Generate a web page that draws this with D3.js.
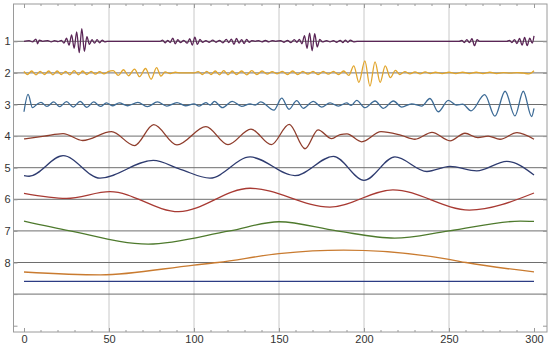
<!DOCTYPE html>
<html>
<head>
<meta charset="utf-8">
<script src="https://cdn.jsdelivr.net/npm/d3@7"></script>
<style>
  body { margin: 0; background: #fff; }
  #chart text { font-family: "Liberation Sans", Arial, sans-serif; font-size: 11px; fill: #333; }
</style>
</head>
<body>
<div id="chart"></div>
<script>
// x ticks and level labels
var xTicks = [0, 50, 100, 150, 200, 250, 300];
var xGrid = [50, 100, 150, 200, 250];
var levelLabels = ["1", "2", "3", "4", "5", "6", "7", "8", "", ""];

// detail level 1 : [t, value]
var level1 = [[0,0],[3,0.02],[5,-0.02],[7,0.07],[8,-0.08],[9,0.04],[11,0],[14,0.02],[16,-0.02],[18,0.02],[20,-0.01],
  [22,0.03],[23.5,-0.06],[25,0.1],[26.5,-0.12],[28,0.2],[29.5,-0.22],[31,0.3],[32.5,-0.36],[34,0.4],[35.5,-0.32],
  [37,0.15],[38.5,-0.1],[40,0.05],[41.5,-0.06],[43,0.05],[44.5,-0.05],[46,0.04],[47.5,-0.02],[49,0],[80,0],
  [81.5,0.04],[83,-0.05],[84.5,0.03],[86,-0.04],[87.5,0.1],[89,-0.08],[90.5,0.05],[92,-0.04],[94,0.03],[96,-0.06],
  [97.5,0.08],[99,-0.12],[100.5,0.13],[102,-0.1],[103.5,0.06],[105,-0.03],[107,0.02],[109,-0.03],[111,0.04],
  [113,-0.03],[115,0.03],[117,-0.05],[119,0.06],[120.5,-0.04],[122,0.07],[123.5,-0.1],[125,0.09],[126.5,-0.06],
  [128,0.05],[129.5,-0.07],[131,0.06],[132.5,-0.03],[134,0.02],[136,0],[138,0.02],[140,-0.02],[142,0.03],
  [144,-0.02],[146,0.02],[148,0],[151,0.02],[153,-0.03],[155,0.03],[157,-0.04],[159,0.05],[160.5,-0.03],
  [162,0.06],[163.5,-0.08],[165,0.18],[166.5,-0.22],[168,0.26],[169.5,-0.3],[171,0.24],[172.5,-0.18],[174,0.06],
  [175.5,-0.02],[178,0.02],[180,-0.02],[182,0.02],[184,-0.03],[186,0.03],[187.5,-0.04],[189,0.04],[190.5,-0.03],
  [192,0.04],[194,-0.02],[196,0],[256,0],[257.5,0.03],[259,-0.04],[260.5,0.05],[262,-0.04],[263.5,0.08],
  [265,-0.14],[266.5,0.05],[268,0],[284,0],[285.5,0.03],[287,-0.04],[288.5,0.05],[290,-0.07],[291.5,0.09],
  [293,-0.12],[294.5,0.12],[296,-0.14],[297.5,0.1],[299,-0.06],[300,0.17]];

var level2 = [[0,0.05],[2,-0.05],[4.5,0.06],[7,-0.06],[9.5,0.05],[12,-0.05],[14.5,0.06],[17,-0.06],[19.5,0.06],
  [22,-0.05],[24.5,0.05],[27,-0.06],[29.5,0.07],[32,-0.06],[34.5,0.06],[37,-0.05],[39.5,0.05],[42,-0.04],
  [44.5,0.04],[47,-0.03],[49.5,0.04],[52.5,0.07],[55.5,-0.08],[58.5,0.1],[61.5,-0.09],[65,0.12],[68,-0.12],
  [71.5,0.14],[74.8,-0.2],[78,0.17],[80.5,-0.1],[83,0.03],[86,-0.02],[89,0.02],[92,0],[100,0],[102.5,0.04],
  [105,-0.05],[107.5,0.05],[110,-0.05],[112.5,0.06],[115,-0.06],[117.5,0.07],[120,-0.06],[122.5,0.06],
  [125,-0.05],[128,0.06],[131,-0.06],[134,0.07],[137,-0.05],[140,0.06],[143,-0.04],[146,0.04],[149,-0.03],
  [152,0.05],[155,-0.05],[158,0.06],[161,-0.05],[164,0.05],[167,-0.04],[170,0.05],[173,-0.05],[176,0.05],
  [179,-0.04],[182,0.05],[185,-0.05],[188,0.06],[191,-0.08],[194,0.22],[197,-0.3],[200.5,0.38],[203.5,-0.42],
  [206.5,0.35],[209.5,-0.3],[212.5,0.22],[215.5,-0.15],[218.5,0.08],[221,-0.05],[224,0.04],[227,-0.03],
  [230,0.03],[233,-0.03],[236,0.03],[239,-0.02],[242,0.02],[246,-0.02],[250,0.02],[254,-0.02],[258,0.02],
  [262,-0.02],[266,0.02],[270,-0.02],[274,0.02],[278,-0.02],[282,0.01],[286,-0.01],[290,0.01],[294,-0.01],
  [297,-0.03],[300,0.07]];

var level3 = [[0,-0.23],[2.4,0.32],[5,-0.1],[7.5,0.0],[10,0.07],[13.5,-0.06],[17.5,0.08],[21,-0.07],[25,0.09],
  [29,-0.08],[33,0.1],[37,-0.09],[41,0.08],[45,-0.06],[48.5,0.05],[52,-0.04],[56,0.05],[61,-0.04],[67,0.07],
  [72.5,-0.07],[78.5,0.08],[84,-0.05],[90,0.06],[95,-0.04],[100,0.02],[103,-0.05],[107,0.06],[109.5,-0.02],
  [112,0.1],[116.7,-0.1],[122.5,0.1],[128,-0.06],[133,0.02],[136,-0.02],[139.2,0.08],[147,-0.18],[151.6,0.2],
  [155.9,-0.15],[160.4,0.12],[164.3,-0.12],[170.2,0.1],[175.1,-0.08],[180,0.05],[184.9,-0.05],[189.8,0.05],
  [192.5,-0.03],[195.7,0.13],[200.6,-0.1],[206.5,0.11],[211.4,-0.12],[217.3,0.11],[222.2,-0.08],[228,0.02],
  [233.9,-0.05],[238.8,0.19],[243.7,-0.23],[249.6,0.13],[254.5,-0.02],[258,0.01],[263,-0.2],[271,0.31],
  [277,-0.37],[283,0.42],[288.8,-0.36],[293.7,0.42],[298.6,-0.38],[300,-0.12]];

var level4 = [[0,-0.09],[12,0.0],[23,0.08],[34.5,-0.14],[51.5,0.14],[65,-0.3],[76.3,0.36],[90,-0.28],[107,0.3],
  [120,-0.27],[133.5,0.22],[145.5,-0.27],[156,0.37],[165.3,-0.4],[173,0.2],[181,-0.08],[186,0.05],[190,0.07],
  [198.6,-0.18],[210,0.14],[222,0.02],[230,-0.1],[240,0.12],[250.6,-0.15],[259.4,0.09],[267,-0.05],[273,0.0],
  [280,-0.1],[290,0.11],[300,-0.1]];

var level5 = [[0,-0.25],[3,-0.27],[23,0.38],[44.7,-0.33],[76,0.23],[92,-0.05],[109.4,-0.33],[133,0.34],
  [159.4,-0.25],[182,0.36],[200,-0.4],[218.2,0.34],[237,-0.12],[250.6,0.04],[266.3,-0.1],[284,0.2],[300,-0.23]];

var level6 = [[0,0.19],[25,0.03],[50.6,0.24],[91,-0.39],[133,0.35],[180,-0.25],[217,0.3],[262,-0.34],[300,0.2]];

var level7 = [[0,0.31],[27,0],[73,-0.42],[121,0],[150,0.29],[184,0],[218,-0.23],[250,0],[292,0.31],[300,0.3]];

var level8 = [[0,-0.3],[45,-0.39],[100,-0.08],[114,0],[150,0.28],[188,0.39],[250,0.1],[260,0],[300,-0.3]];

// smooth part, flat
var level9 = [[0,0.4],[300,0.4]];

var series = [level1, level2, level3, level4, level5, level6, level7, level8, level9];
var colors = ["#5a2556", "#e2a52b", "#3d6b96", "#8f3d2c", "#2f3c70", "#a83a33", "#4e7a2d", "#c97b30", "#2c3c84"];

const width = 550, height = 347;

var svg = d3.select("#chart")
  .append("svg")
  .attr("width", width)
  .attr("height", height);

// t -> pixel, level -> pixel (level k sits on gridline k)
const x = d3.scaleLinear().domain([0, 300]).range([24, 534]);
const y = d3.scaleLinear().domain([1, 9]).range([41.3, 294.1]);

const frame = { left: 13.5, right: 547, top: 4, bottom: 332 };

// vertical grid
svg.append("g")
  .selectAll("line")
  .data(xGrid)
  .enter()
  .append("line")
  .attr("x1", d => x(d)).attr("x2", d => x(d))
  .attr("y1", frame.top).attr("y2", frame.bottom)
  .attr("stroke", "#c8c8c8")
  .attr("stroke-width", 1);

// horizontal level lines
svg.append("g")
  .selectAll("line")
  .data(d3.range(1, 10))
  .enter()
  .append("line")
  .attr("x1", frame.left).attr("x2", frame.right)
  .attr("y1", d => y(d)).attr("y2", d => y(d))
  .attr("stroke", "#6e6e6e")
  .attr("stroke-width", 1);

// frame
svg.append("rect")
  .attr("x", frame.left).attr("y", frame.top)
  .attr("width", frame.right - frame.left)
  .attr("height", frame.bottom - frame.top)
  .attr("fill", "none")
  .attr("stroke", "#9a9a9a")
  .attr("stroke-width", 1);

// bottom axis with inward ticks
var xAxis = svg.append("g")
  .attr("transform", "translate(0," + frame.bottom + ")")
  .call(d3.axisBottom(x).tickValues(xTicks).tickSizeInner(-4).tickSizeOuter(0).tickPadding(3));
xAxis.select(".domain").remove();

// top axis ticks
var topAxis = svg.append("g")
  .attr("transform", "translate(0," + frame.top + ")")
  .call(d3.axisTop(x).tickValues(xTicks).tickSizeInner(-4).tickSizeOuter(0).tickFormat(""));
topAxis.select(".domain").remove();

// minor ticks every 10
var minor = d3.range(0, 301, 10).filter(d => d % 50 !== 0);
[frame.bottom, frame.top].forEach(function (yy, i) {
  svg.append("g")
    .selectAll("line")
    .data(minor)
    .enter()
    .append("line")
    .attr("x1", d => x(d)).attr("x2", d => x(d))
    .attr("y1", yy).attr("y2", i === 0 ? yy - 2 : yy + 2)
    .attr("stroke", "#9a9a9a");
});

// left axis with level labels
var yAxis = svg.append("g")
  .attr("transform", "translate(" + frame.left + ",0)")
  .call(d3.axisLeft(y).tickValues(d3.range(1, 11)).tickSizeInner(-4).tickSizeOuter(0).tickPadding(3)
    .tickFormat((d, i) => levelLabels[i]));
yAxis.select(".domain").remove();

var rightAxis = svg.append("g")
  .attr("transform", "translate(" + frame.right + ",0)")
  .call(d3.axisRight(y).tickValues(d3.range(1, 11)).tickSizeInner(-4).tickSizeOuter(0).tickFormat(""));
rightAxis.select(".domain").remove();

svg.selectAll(".tick line").attr("stroke", "#9a9a9a");
svg.selectAll(".tick text").style("fill", "#333");

// one curve per level
series.forEach(function (data, i) {
  var line = d3.line()
    .x(d => x(d[0]))
    .y(d => y(i + 1 - d[1]))
    .curve(d3.curveMonotoneX);

  svg.append("path")
    .datum(data)
    .attr("d", line)
    .attr("fill", "none")
    .attr("stroke", colors[i])
    .attr("stroke-width", 1.3)
    .attr("stroke-linejoin", "round");
});
</script>
</body>
</html>
